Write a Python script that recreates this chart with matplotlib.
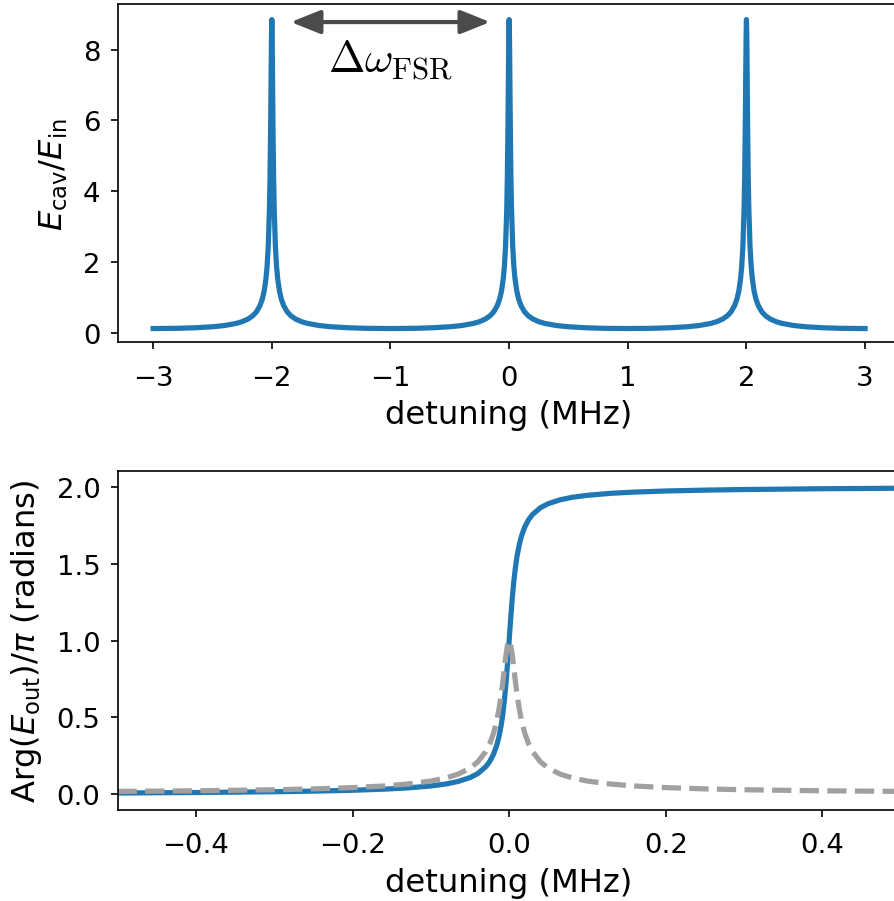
import matplotlib
matplotlib.use("Agg")
import matplotlib.pyplot as plt

plt.rcParams["font.family"] = ["DejaVu Sans"]
plt.rcParams["font.size"] = 12

BLUE, GREY, ARROW = "#1f77b4", "#a0a0a0", "#4b4b4b"

# cavity field amplitude vs detuning (MHz), three resonances one FSR apart
cav_x = [-3.0, -2.8, -2.65, -2.5, -2.4, -2.3, -2.25, -2.2, -2.16, -2.13, -2.1, -2.08,
         -2.065, -2.05, -2.04, -2.03, -2.02, -2.015, -2.01, -2.006, -2.003, -2.0,
         -1.997, -1.994, -1.99, -1.985, -1.98, -1.97, -1.96, -1.95, -1.935, -1.92, -1.9,
         -1.87, -1.84, -1.8, -1.75, -1.7, -1.6, -1.5, -1.35, -1.2, -1.0,
         -0.8, -0.65, -0.5, -0.4, -0.3, -0.25, -0.2, -0.16, -0.13, -0.1, -0.08,
         -0.065, -0.05, -0.04, -0.03, -0.02, -0.015, -0.01, -0.006, -0.003, 0.0,
         0.003, 0.006, 0.01, 0.015, 0.02, 0.03, 0.04, 0.05, 0.065, 0.08, 0.1,
         0.13, 0.16, 0.2, 0.25, 0.3, 0.4, 0.5, 0.65, 0.8, 1.0,
         1.2, 1.35, 1.5, 1.6, 1.7, 1.75, 1.8, 1.84, 1.87, 1.9, 1.92,
         1.935, 1.95, 1.96, 1.97, 1.98, 1.985, 1.99, 1.994, 1.997, 2.0,
         2.003, 2.006, 2.01, 2.015, 2.02, 2.03, 2.04, 2.05, 2.065, 2.08, 2.1,
         2.13, 2.16, 2.2, 2.25, 2.3, 2.4, 2.5, 2.65, 2.8, 3.0]
cav_y = [0.120, 0.126, 0.141, 0.170, 0.204, 0.265, 0.314, 0.389, 0.483, 0.591, 0.766, 0.954,
         1.17, 1.51, 1.87, 2.45, 3.51, 4.42, 5.79, 7.27, 8.36, 8.85,
         8.36, 7.27, 5.79, 4.42, 3.51, 2.45, 1.87, 1.51, 1.17, 0.954, 0.766,
         0.591, 0.483, 0.389, 0.314, 0.265, 0.204, 0.170, 0.141, 0.126, 0.120,
         0.126, 0.141, 0.170, 0.204, 0.265, 0.314, 0.389, 0.483, 0.591, 0.766, 0.954,
         1.17, 1.51, 1.87, 2.45, 3.51, 4.42, 5.79, 7.27, 8.36, 8.85,
         8.36, 7.27, 5.79, 4.42, 3.51, 2.45, 1.87, 1.51, 1.17, 0.954, 0.766,
         0.591, 0.483, 0.389, 0.314, 0.265, 0.204, 0.170, 0.141, 0.126, 0.120,
         0.126, 0.141, 0.170, 0.204, 0.265, 0.314, 0.389, 0.483, 0.591, 0.766, 0.954,
         1.17, 1.51, 1.87, 2.45, 3.51, 4.42, 5.79, 7.27, 8.36, 8.85,
         8.36, 7.27, 5.79, 4.42, 3.51, 2.45, 1.87, 1.51, 1.17, 0.954, 0.766,
         0.591, 0.483, 0.389, 0.314, 0.265, 0.204, 0.170, 0.141, 0.126, 0.120]

# reflected phase (units of pi) and normalised cavity amplitude near resonance
ph_x = [-0.5, -0.4, -0.3, -0.25, -0.2, -0.16, -0.13, -0.1, -0.08, -0.065, -0.05, -0.04,
        -0.03, -0.025, -0.02, -0.016, -0.013, -0.01, -0.008, -0.006, -0.004, -0.002, 0.0,
        0.002, 0.004, 0.006, 0.008, 0.01, 0.013, 0.016, 0.02, 0.025, 0.03, 0.04,
        0.05, 0.065, 0.08, 0.1, 0.13, 0.16, 0.2, 0.25, 0.3, 0.4, 0.5]
phase = [0.0087, 0.0119, 0.0170, 0.0209, 0.0266, 0.0337, 0.0417, 0.0545, 0.068, 0.084, 0.109, 0.135,
         0.179, 0.212, 0.260, 0.316, 0.374, 0.454, 0.525, 0.614, 0.724, 0.855, 1.0,
         1.145, 1.276, 1.386, 1.475, 1.546, 1.626, 1.684, 1.740, 1.788, 1.821, 1.865,
         1.891, 1.916, 1.932, 1.9455, 1.9583, 1.9663, 1.9734, 1.9791, 1.9830, 1.9881, 1.9913]
amp_norm = [0.0192, 0.0231, 0.0299, 0.0355, 0.0439, 0.0545, 0.0668, 0.0865, 0.1077, 0.1321, 0.1706, 0.2114,
            0.2771, 0.3270, 0.3969, 0.4755, 0.5538, 0.6541, 0.7341, 0.8216, 0.9076, 0.9743, 1.0,
            0.9743, 0.9076, 0.8216, 0.7341, 0.6541, 0.5538, 0.4755, 0.3969, 0.3270, 0.2771, 0.2114,
            0.1706, 0.1321, 0.1077, 0.0865, 0.0668, 0.0545, 0.0439, 0.0355, 0.0299, 0.0231, 0.0192]

fig = plt.figure(figsize=(5.96, 6.013), dpi=150)
ax1 = fig.add_axes([0.1315, 0.6194, 0.876, 0.3751])
ax2 = fig.add_axes([0.1315, 0.1012, 0.876, 0.3758])

ax1.plot(cav_x, cav_y, color=BLUE, lw=2.5)
ax1.set_xlim(-3.3, 3.3)
ax1.set_ylim(-0.27, 9.29)
ax1.set_xlabel("detuning (MHz)", fontsize=15.5)
ax1.set_ylabel(r"$E_{\rm cav}/E_{\rm in}$", fontsize=15.5, labelpad=6)
ax1.annotate("", xy=(-0.16, 8.78), xytext=(-1.84, 8.78),
             arrowprops=dict(arrowstyle="<|-|>,head_length=0.6,head_width=0.24",
                             mutation_scale=20, color=ARROW, lw=2.0,
                             shrinkA=0, shrinkB=0))
ax1.text(-1.0, 7.72, r"$\Delta\omega_{\rm FSR}$", ha="center", va="center",
         fontsize=21, math_fontfamily="cm")

ax2.plot(ph_x, phase, color=BLUE, lw=2.5)
ax2.plot(ph_x, amp_norm, color=GREY, lw=2.5, ls="--")
ax2.set_xlim(-0.5, 0.5)
ax2.set_ylim(-0.1, 2.105)
ax2.set_yticks([0.0, 0.5, 1.0, 1.5, 2.0])
ax2.set_xlabel("detuning (MHz)", fontsize=15.5)
ax2.set_ylabel(r"Arg($E_{\rm out}$)/$\pi$ (radians)", fontsize=15.5, labelpad=6)

for ax in (ax1, ax2):
    ax.tick_params(labelsize=13.2)
    ax.tick_params(axis="x", pad=7.3)
    ax.tick_params(axis="y", pad=4.7)

fig.savefig("out.png", dpi=150)
